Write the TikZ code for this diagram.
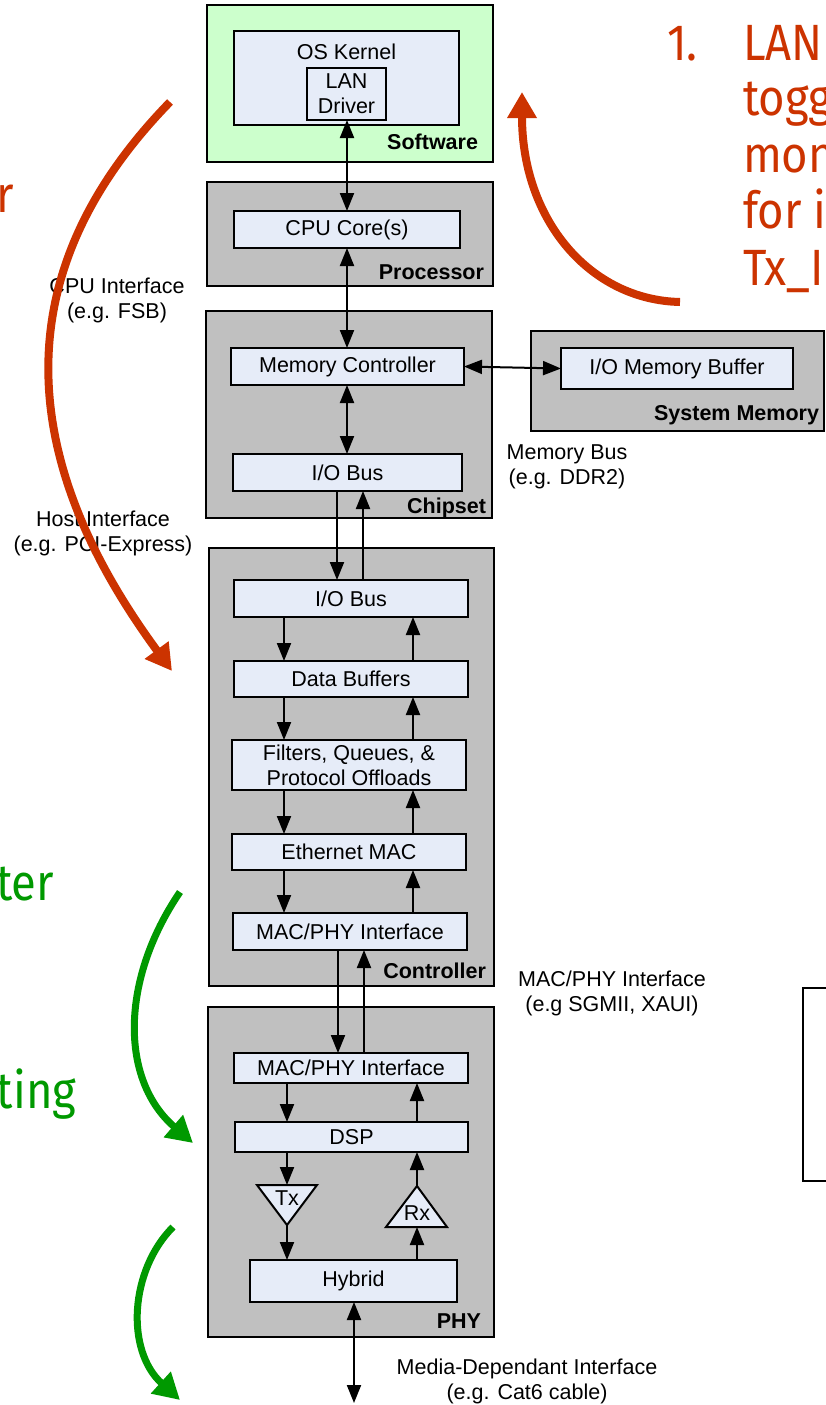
\documentclass[tikz,border=0pt]{standalone}
\usepackage{fontspec}
\setmainfont{Liberation Sans}
\newfontfamily\slidefont[FakeStretch=0.89]{Fira Sans}
\usetikzlibrary{arrows.meta}

\definecolor{boxfill}{RGB}{230,236,248}
\definecolor{chipgray}{RGB}{192,192,192}
\definecolor{swgreen}{RGB}{204,255,204}
\definecolor{hotred}{RGB}{204,51,0}
\definecolor{okgreen}{RGB}{0,153,0}

\tikzset{
  every node/.style={font=\fontsize{21.5}{25}\selectfont, inner sep=0pt, outer sep=0pt},
  block/.style={draw, line width=2pt, fill=chipgray},
  unit/.style={draw, line width=2pt, fill=boxfill, align=center},
  tag/.style={font=\fontsize{21.5}{25}\selectfont\bfseries, anchor=east},
  note/.style={align=center},
  link/.style={line width=2pt, -{Triangle[length=18pt,width=14pt]}},
  duplex/.style={line width=2pt, {Triangle[length=18pt,width=14pt]}-{Triangle[length=18pt,width=14pt]}},
  bigred/.style={line width=8pt, draw=hotred, -{Triangle[length=26pt,width=28pt]}},
  biggreen/.style={line width=7pt, draw=okgreen, -{Triangle[length=26pt,width=28pt]}},
  slide/.style={font=\slidefont\fontsize{51}{56}\selectfont, anchor=base west},
}

\begin{document}
\begin{tikzpicture}[x=1pt, y=-1pt]
\useasboundingbox (0,0) rectangle (825,1405);
\fill[white] (0,0) rectangle (825,1405);

% ---------- software ----------
\node[block, fill=swgreen, minimum width=286pt, minimum height=157pt] (software) at (350,83.5) {};
\node[unit, minimum width=225pt, minimum height=94pt] (oskernel) at (346.5,78) {};
\node (oskernel-name) at (346.5,52) {OS Kernel};
\node[unit, minimum width=79pt, minimum height=52pt] (landriver) at (346.5,94) {LAN\\Driver};
\node[tag] (software-tag) at (478,142) {Software};

% ---------- processor ----------
\node[block, minimum width=286pt, minimum height=104pt] (processor) at (350,234) {};
\node[unit, minimum width=226pt, minimum height=37pt] (cpu) at (347,229.5) {CPU Core(s)};
\node[tag] (processor-tag) at (484,272) {Processor};

% ---------- chipset ----------
\node[block, minimum width=286pt, minimum height=207pt] (chipset) at (349,414.5) {};
\node[unit, minimum width=233pt, minimum height=37pt] (memctrl) at (347.5,366.5) {Memory Controller};
\node[unit, minimum width=229pt, minimum height=37pt] (hostbus) at (347.5,472.5) {I/O Bus};
\node[tag] (chipset-tag) at (486,508) {Chipset};

% ---------- system memory ----------
\node[block, minimum width=293pt, minimum height=100pt] (sysmem) at (677.5,381) {};
\node[unit, minimum width=232pt, minimum height=41pt] (iomembuf) at (677,368.5) {I/O Memory Buffer};
\node[tag] (sysmem-tag) at (819,415) {System Memory};

% ---------- controller ----------
\node[block, minimum width=285pt, minimum height=438pt] (controller) at (351.5,767) {};
\node[unit, minimum width=234pt, minimum height=37pt] (nicbus) at (351,598.5) {I/O Bus};
\node[unit, minimum width=234pt, minimum height=36pt] (databuf) at (351,679) {Data Buffers};
\node[unit, minimum width=234pt, minimum height=50pt] (filters) at (349,765) {Filters, Queues, \&\\Protocol Offloads};
\node[unit, minimum width=234pt, minimum height=36pt] (ethmac) at (349,852) {Ethernet MAC};
\node[unit, minimum width=234pt, minimum height=37pt] (macphyA) at (350,931.5) {MAC/PHY Interface};
\node[tag] (controller-tag) at (486,971) {Controller};

% ---------- PHY ----------
\node[block, minimum width=286pt, minimum height=330pt] (phy) at (351,1172) {};
\node[unit, minimum width=234pt, minimum height=30pt] (macphyB) at (351,1068) {MAC/PHY Interface};
\node[unit, minimum width=233pt, minimum height=30pt] (dsp) at (351.5,1137) {DSP};
\draw[line width=2pt, fill=boxfill] (257,1185) -- (317,1185) -- (287,1225) -- cycle;
\draw[line width=2pt, fill=boxfill] (386,1227) -- (447,1227) -- (417,1186) -- cycle;
\coordinate (txin) at (287,1185);
\coordinate (txout) at (287,1225);
\coordinate (rxin) at (417,1227);
\coordinate (rxout) at (417,1186);
\node (tx) at (287,1198) {Tx};
\node (rx) at (417,1213) {Rx};
\node[unit, minimum width=207pt, minimum height=42pt] (hybrid) at (353.5,1281) {Hybrid};
\node[tag] (phy-tag) at (481,1321) {PHY};

% side panel on the right
\node[draw, line width=2pt, fill=white, minimum width=40pt, minimum height=193pt, anchor=north west] (sidepanel) at (803,987.5) {};

% ---------- interface notes ----------
\node[note] (cpuif) at (117,300.5) {CPU Interface\\(e.g. FSB)};
\node[note] (hostif) at (103,533) {Host Interface\\(e.g. PCI-Express)};
\node[note] (membus) at (567,467) {Memory Bus\\(e.g. DDR2)};
\node[note] (phyif) at (612,993) {MAC/PHY Interface\\(e.g SGMII, XAUI)};
\node[note] (mdi) at (527,1381) {Media-Dependant Interface\\(e.g. Cat6 cable)};

% ---------- connectors ----------
\coordinate (xmid) at (347,0);
\coordinate (xdown) at (337,0);
\coordinate (xup) at (363,0);
\coordinate (xdownB) at (338,0);
\coordinate (xupB) at (364,0);
\coordinate (cl) at (284,0);
\coordinate (cr) at (413,0);
\coordinate (pl) at (287,0);
\coordinate (pr) at (417,0);
\coordinate (xmdi) at (354,0);
\coordinate (cable) at (354,1403);

\draw[duplex] (landriver.south -| xmid) -- (cpu.north -| xmid);
\draw[duplex] (cpu.south -| xmid) -- (memctrl.north -| xmid);
\draw[duplex] (memctrl.south -| xmid) -- (hostbus.north -| xmid);
\draw[duplex] (memctrl.east) -- (iomembuf.west);

\draw[link] (hostbus.south -| xdown) -- (nicbus.north -| xdown);
\draw[link] (nicbus.north -| xup) -- (hostbus.south -| xup);

\draw[link] (nicbus.south -| cl) -- (databuf.north -| cl);
\draw[link] (databuf.north -| cr) -- (nicbus.south -| cr);
\draw[link] (databuf.south -| cl) -- (filters.north -| cl);
\draw[link] (filters.north -| cr) -- (databuf.south -| cr);
\draw[link] (filters.south -| cl) -- (ethmac.north -| cl);
\draw[link] (ethmac.north -| cr) -- (filters.south -| cr);
\draw[link] (ethmac.south -| cl) -- (macphyA.north -| cl);
\draw[link] (macphyA.north -| cr) -- (ethmac.south -| cr);

\draw[link] (macphyA.south -| xdownB) -- (macphyB.north -| xdownB);
\draw[link] (macphyB.north -| xupB) -- (macphyA.south -| xupB);

\draw[link] (macphyB.south -| pl) -- (dsp.north -| pl);
\draw[link] (dsp.north -| pr) -- (macphyB.south -| pr);
\draw[link] (dsp.south -| pl) -- (txin);
\draw[link] (txout) -- (hybrid.north -| pl);
\draw[link] (hybrid.north -| pr) -- (rxin);
\draw[link] (rxout) -- (dsp.south -| pr);
\draw[duplex] (hybrid.south -| xmdi) -- (cable);

% ---------- slide annotations ----------
\node[slide, text=hotred] (step-num) at (667,60) {1.};
\node[slide, text=hotred] (step-l1) at (743,60) {LAN};
\node[slide, text=hotred] (step-l2) at (743,115) {togg};
\node[slide, text=hotred] (step-l3) at (743,172) {mon};
\node[slide, text=hotred] (step-l4) at (743,228) {for i};
\node[slide, text=hotred] (step-l5) at (743,285) {Tx\_I};
\node[slide, text=hotred] (left-r) at (-4,212) {r};
\node[slide, text=okgreen] (left-ter) at (-4,900) {ter};
\node[slide, text=okgreen] (left-ting) at (-3,1108) {ting};

\coordinate (red1a) at (170,102);
\coordinate (red1b) at (172,671);
\coordinate (red2a) at (680,302);
\coordinate (red2b) at (522,92);
\coordinate (grn1a) at (180,892);
\coordinate (grn1b) at (193,1143);
\coordinate (grn2a) at (173,1227);
\coordinate (grn2b) at (180,1400);

\draw[bigred] (red1a) .. controls (14,262) and (6,445) .. (red1b);
\draw[bigred] (red2a) .. controls (590,300) and (522,220) .. (red2b);
\draw[biggreen] (grn1a) .. controls (120,980) and (120,1080) .. (grn1b);
\draw[biggreen] (grn2a) .. controls (130,1270) and (125,1350) .. (grn2b);
\end{tikzpicture}
\end{document}
